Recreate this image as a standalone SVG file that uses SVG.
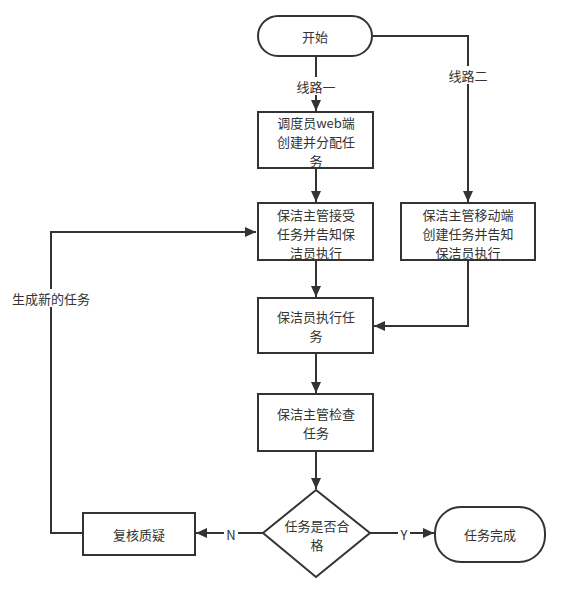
<svg xmlns="http://www.w3.org/2000/svg" width="576" height="590" viewBox="0 0 576 590">
<defs>
<marker id="arr" markerUnits="userSpaceOnUse" markerWidth="12" markerHeight="12" viewBox="0 0 12 12" refX="11" refY="6" orient="auto">
<path d="M0,1 L11,6 L0,11 Z" fill="#333"/>
</marker>
</defs>
<style>
.n{fill:#fff;stroke:#333;stroke-width:2}
.t{font-family:"Noto Sans CJK SC","Liberation Sans",sans-serif;font-size:13px;fill:#333;text-anchor:middle;dominant-baseline:central}
.c{fill:none;stroke:#333;stroke-width:2}
.lb{fill:#fff}
</style>
<rect width="576" height="590" fill="#fff"/>
<g id="connectors">
<path class="c" d="M316,56 V111" marker-end="url(#arr)"/>
<path class="c" d="M372,36 H468 V202" marker-end="url(#arr)"/>
<path class="c" d="M316,168 V202" marker-end="url(#arr)"/>
<path class="c" d="M316,260 V297" marker-end="url(#arr)"/>
<path class="c" d="M468,260 V326 H374" marker-end="url(#arr)"/>
<path class="c" d="M316,353 V393" marker-end="url(#arr)"/>
<path class="c" d="M316,451 V489" marker-end="url(#arr)"/>
<path class="c" d="M263,533 H196" marker-end="url(#arr)"/>
<path class="c" d="M370,533 H434" marker-end="url(#arr)"/>
<path class="c" d="M83,533 H51 V232 H256" marker-end="url(#arr)"/>
<rect class="lb" x="292" y="77" width="48" height="18"/>
<text class="t" x="316" y="86">线路一</text>
<rect class="lb" x="444" y="66" width="48" height="18"/>
<text class="t" x="468" y="75">线路二</text>
<rect class="lb" x="10" y="289" width="82" height="18"/>
<text class="t" x="51" y="298">生成新的任务</text>
<rect class="lb" x="224" y="524" width="14" height="18"/>
<text class="t" x="231" y="534">N</text>
<rect class="lb" x="398" y="524" width="12" height="18"/>
<text class="t" x="404" y="534">Y</text>
</g>
<g id="start">
<rect class="n" x="258" y="16" width="114" height="40" rx="20"/>
<text class="t" x="315" y="36">开始</text>
</g>
<g id="dispatch">
<rect class="n" x="258" y="112" width="115" height="56"/>
<text class="t" x="316" y="122">调度员web端</text>
<text class="t" x="316" y="141">创建并分配任</text>
<text class="t" x="316" y="160">务</text>
</g>
<g id="accept">
<rect class="n" x="258" y="203" width="115" height="57"/>
<text class="t" x="316" y="214">保洁主管接受</text>
<text class="t" x="316" y="233">任务并告知保</text>
<text class="t" x="316" y="252">洁员执行</text>
</g>
<g id="mobile">
<rect class="n" x="401" y="203" width="134" height="57"/>
<text class="t" x="468" y="214">保洁主管移动端</text>
<text class="t" x="468" y="233">创建任务并告知</text>
<text class="t" x="468" y="252">保洁员执行</text>
</g>
<g id="execute">
<rect class="n" x="258" y="298" width="115" height="55"/>
<text class="t" x="316" y="316">保洁员执行任</text>
<text class="t" x="316" y="335">务</text>
</g>
<g id="check">
<rect class="n" x="258" y="394" width="115" height="57"/>
<text class="t" x="316" y="413">保洁主管检查</text>
<text class="t" x="316" y="432">任务</text>
</g>
<g id="decision">
<polygon class="n" points="316,490 370,533 316,577 263,533"/>
<text class="t" x="317" y="525">任务是否合</text>
<text class="t" x="317" y="544">格</text>
</g>
<g id="review">
<rect class="n" x="83" y="513" width="112" height="42"/>
<text class="t" x="139" y="534">复核质疑</text>
</g>
<g id="end">
<rect class="n" x="435" y="507" width="110" height="55" rx="26"/>
<text class="t" x="490" y="534">任务完成</text>
</g>
</svg>
